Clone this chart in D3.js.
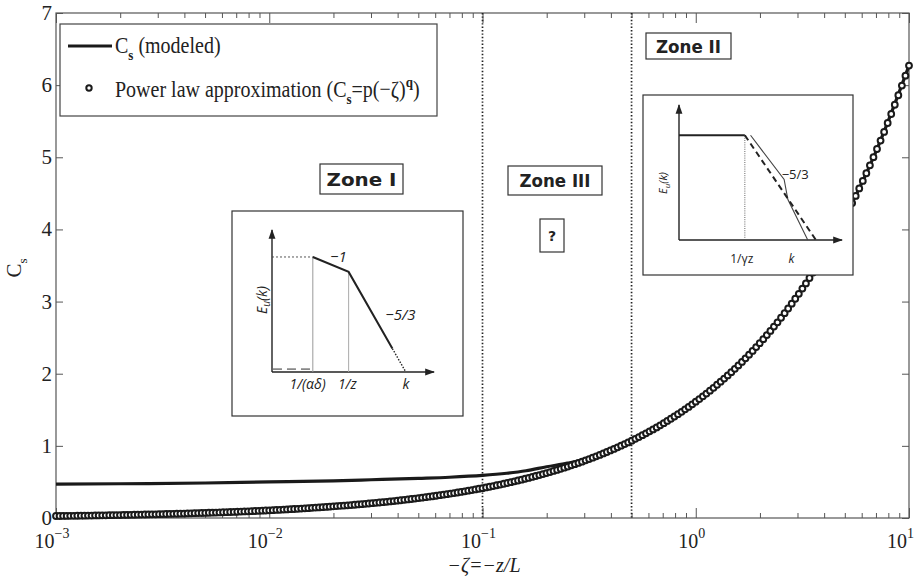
<!DOCTYPE html>
<html>
<head>
<meta charset="utf-8">
<script src="https://cdn.jsdelivr.net/npm/d3@7"></script>
<style>
  body { margin: 0; background: #fff; }
  svg { display: block; }
</style>
</head>
<body>
<svg id="chart" width="915" height="582"></svg>
<script>
// ---------- data ----------
const decadeTicks = [1e-3, 1e-2, 1e-1, 1e0, 1e1];
const decadeExponents = ["\u22123", "\u22122", "\u22121", "0", "1"];
const yTicks = [0, 1, 2, 3, 4, 5, 6, 7];
const zoneBoundaries = [0.1, 0.5];

// power-law approximation, sampled evenly in log10(-zeta) from 1e-3 to 10 (60 samples per decade)
const powerLawCs = [
  0.0274,0.0280,0.0286,0.0293,0.0300,0.0307,0.0314,0.0321,0.0328,0.0336,
  0.0343,0.0351,0.0359,0.0368,0.0376,0.0385,0.0393,0.0402,0.0412,0.0421,
  0.0431,0.0440,0.0451,0.0461,0.0471,0.0482,0.0493,0.0505,0.0516,0.0528,
  0.0540,0.0552,0.0565,0.0578,0.0591,0.0605,0.0619,0.0633,0.0647,0.0662,
  0.0677,0.0693,0.0709,0.0725,0.0741,0.0758,0.0776,0.0794,0.0812,0.0830,
  0.0849,0.0869,0.0889,0.0909,0.0930,0.0951,0.0973,0.0995,0.1018,0.1041,
  0.1065,0.1089,0.1114,0.1140,0.1166,0.1193,0.1220,0.1248,0.1276,0.1306,
  0.1336,0.1366,0.1398,0.1429,0.1462,0.1496,0.1530,0.1565,0.1601,0.1638,
  0.1675,0.1713,0.1753,0.1793,0.1834,0.1876,0.1919,0.1963,0.2008,0.2054,
  0.2101,0.2149,0.2198,0.2248,0.2300,0.2352,0.2406,0.2461,0.2518,0.2575,
  0.2634,0.2695,0.2756,0.2820,0.2884,0.2950,0.3018,0.3087,0.3158,0.3230,
  0.3304,0.3380,0.3457,0.3536,0.3617,0.3700,0.3785,0.3871,0.3960,0.4051,
  0.414,0.424,0.433,0.443,0.454,0.464,0.475,0.485,0.497,0.508,
  0.520,0.531,0.544,0.556,0.569,0.582,0.595,0.609,0.623,0.637,
  0.652,0.667,0.682,0.697,0.713,0.730,0.746,0.764,0.781,0.799,
  0.817,0.836,0.855,0.875,0.895,0.915,0.936,0.958,0.979,1.002,
  1.025,1.048,1.072,1.097,1.122,1.148,1.174,1.201,1.228,1.256,
  1.285,1.315,1.345,1.376,1.407,1.439,1.472,1.506,1.540,1.576,
  1.612,1.649,1.687,1.725,1.765,1.805,1.847,1.889,1.932,1.976,
  2.022,2.068,2.115,2.164,2.213,2.264,2.316,2.369,2.423,2.479,
  2.535,2.593,2.653,2.713,2.776,2.839,2.904,2.971,3.039,3.108,
  3.180,3.252,3.327,3.403,3.481,3.561,3.642,3.726,3.811,3.898,
  3.987,4.079,4.172,4.268,4.365,4.465,4.568,4.672,4.779,4.889,
  5.001,5.115,5.232,5.352,5.475,5.600,5.728,5.860,5.994,6.131,
  6.271
];

// modeled Cs
const modeledZeta = [0.001,0.002,0.005,0.01,0.02,0.03,0.05,0.07,0.1,0.13,0.16,0.2,0.25,0.3,0.35,0.4,0.5,0.7,1,1.5,2,3,5,7,10];
const modeledCs   = [0.47,0.475,0.485,0.50,0.515,0.53,0.55,0.565,0.59,0.62,0.655,0.71,0.76,0.81,0.87,0.94,1.07,1.31,1.61,2.05,2.43,3.08,4.17,5.08,6.27];

// ---------- layout ----------
const svg = d3.select("#chart");
const plot = { left: 56, right: 909, top: 13, bottom: 518 };
const axisColor = "#555";
const inkColor = "#1a1a1a";
const serif = "'Liberation Serif', 'Times New Roman', serif";
const sans = "'Open Sans', 'Liberation Sans', sans-serif";
const heavy = "'DejaVu Sans', sans-serif";

const x = d3.scaleLog().domain([1e-3, 10]).range([plot.left, plot.right]);
const y = d3.scaleLinear().domain([0, 7]).range([plot.bottom, plot.top]);

// ---------- ticks ----------
const majorSet = new Set(decadeTicks.map(d => +d.toPrecision(6)));
const minorTicks = x.ticks().filter(d => !majorSet.has(+d.toPrecision(6)));

function styleAxis(g) {
  g.select(".domain").remove();
  g.selectAll(".tick line").attr("stroke", axisColor).attr("stroke-width", 1);
  g.selectAll(".tick text").remove();
}
const bottomAxis = svg.append("g").attr("transform", `translate(0,${plot.bottom})`);
bottomAxis.append("g").call(d3.axisBottom(x).tickValues(minorTicks).tickSize(-5).tickSizeOuter(0)).call(styleAxis);
bottomAxis.append("g").call(d3.axisBottom(x).tickValues(decadeTicks).tickSize(-10).tickSizeOuter(0)).call(styleAxis);
const topAxis = svg.append("g").attr("transform", `translate(0,${plot.top})`);
topAxis.append("g").call(d3.axisTop(x).tickValues(minorTicks).tickSize(-5).tickSizeOuter(0)).call(styleAxis);
topAxis.append("g").call(d3.axisTop(x).tickValues(decadeTicks).tickSize(-10).tickSizeOuter(0)).call(styleAxis);
svg.append("g").attr("transform", `translate(${plot.left},0)`)
  .call(d3.axisLeft(y).tickValues(yTicks).tickSize(-7).tickSizeOuter(0)).call(styleAxis);
svg.append("g").attr("transform", `translate(${plot.right},0)`)
  .call(d3.axisRight(y).tickValues(yTicks).tickSize(-7).tickSizeOuter(0)).call(styleAxis);

// frame
svg.append("rect")
  .attr("x", plot.left).attr("y", plot.top)
  .attr("width", plot.right - plot.left).attr("height", plot.bottom - plot.top)
  .attr("fill", "none").attr("stroke", axisColor).attr("stroke-width", 1.2);

// y tick labels
svg.append("g").selectAll("text").data(yTicks).join("text")
  .attr("x", plot.left - 4).attr("y", d => y(d) + 7)
  .attr("text-anchor", "end")
  .attr("font-family", serif).attr("font-size", 21).attr("fill", "#222")
  .text(d => d);

// x tick labels: 10 with superscript exponent (the last one kept inside the page edge)
const lastTick = decadeTicks[decadeTicks.length - 1];
const xl = svg.append("g").selectAll("text").data(decadeTicks).join("text")
  .attr("x", d => d === lastTick ? 914 : x(d) - 4).attr("y", 548)
  .attr("text-anchor", d => d === lastTick ? "end" : "middle")
  .attr("font-family", serif).attr("font-size", 20).attr("fill", "#222");
xl.append("tspan").text("10");
xl.append("tspan").attr("dy", -10).attr("font-size", 14).text((d, i) => decadeExponents[i]);

// axis titles
svg.append("text")
  .attr("x", 484).attr("y", 572).attr("text-anchor", "middle")
  .attr("font-family", serif).attr("font-style", "italic").attr("font-size", 20).attr("fill", "#222")
  .text("\u2212\u03B6=\u2212z/L");
const yLab = svg.append("text")
  .attr("transform", "translate(21,268) rotate(-90)").attr("text-anchor", "middle")
  .attr("font-family", serif).attr("font-size", 21).attr("fill", "#222");
yLab.append("tspan").text("C");
yLab.append("tspan").attr("dy", 6).attr("font-size", 13).text("s");

// ---------- zone boundaries ----------
svg.append("g").selectAll("line").data(zoneBoundaries).join("line")
  .attr("x1", d => x(d)).attr("x2", d => x(d))
  .attr("y1", plot.top).attr("y2", plot.bottom)
  .attr("stroke", "#222").attr("stroke-width", 1.7).attr("stroke-dasharray", "1.4,2");

// ---------- curves ----------
const modeledLine = d3.line()
  .x(d => x(d[0])).y(d => y(d[1]))
  .curve(d3.curveMonotoneX);
svg.append("path")
  .datum(d3.zip(modeledZeta, modeledCs))
  .attr("d", modeledLine)
  .attr("fill", "none").attr("stroke", inkColor).attr("stroke-width", 3.2);

const sampleLog = d3.scaleLinear().domain([0, powerLawCs.length - 1]).range([Math.log10(1e-3), Math.log10(10)]);
svg.append("g").selectAll("circle").data(powerLawCs).join("circle")
  .attr("cx", (d, i) => x(Math.pow(10, sampleLog(i))))
  .attr("cy", d => y(d))
  .attr("r", 2.9)
  .attr("fill", "#fff").attr("stroke", inkColor).attr("stroke-width", 2);

// ---------- legend ----------
const legend = svg.append("g");
legend.append("rect").attr("x", 60).attr("y", 24).attr("width", 377).attr("height", 92)
  .attr("fill", "#fff").attr("stroke", "#444").attr("stroke-width", 1.2);
legend.append("line").attr("x1", 68).attr("x2", 112).attr("y1", 46).attr("y2", 46)
  .attr("stroke", inkColor).attr("stroke-width", 3.2);
const lt1 = legend.append("g").attr("transform", "translate(115,53) scale(1,1.2)")
  .append("text").attr("x", 0).attr("y", 0)
  .attr("font-family", serif).attr("font-size", 20).attr("fill", "#222");
lt1.append("tspan").text("C");
lt1.append("tspan").attr("dy", 6).attr("font-size", 13).attr("font-weight", "bold").text("s");
lt1.append("tspan").attr("dy", -6).text(" (modeled)");
legend.append("circle").attr("cx", 89).attr("cy", 88).attr("r", 2.7)
  .attr("fill", "#fff").attr("stroke", inkColor).attr("stroke-width", 2);
const lt2 = legend.append("g").attr("transform", "translate(115,97) scale(1,1.2)")
  .append("text").attr("x", 0).attr("y", 0)
  .attr("font-family", serif).attr("font-size", 20).attr("fill", "#222");
lt2.append("tspan").text("Power law approximation (C");
lt2.append("tspan").attr("dy", 6).attr("font-size", 13).attr("font-weight", "bold").text("s");
lt2.append("tspan").attr("dy", -6).text("=p(\u2212\u03B6)");
lt2.append("tspan").attr("dy", -8).attr("font-size", 13).attr("font-weight", "bold").text("q");
lt2.append("tspan").attr("dy", 8).text(")");

// ---------- zone labels ----------
const zoneBoxes = [
  { label: "Zone I",   x0: 320, y0: 164, x1: 403, y1: 194, w: 70 },
  { label: "Zone III", x0: 508, y0: 166, x1: 602, y1: 195, w: 71 },
  { label: "Zone II",  x0: 646, y0: 33,  x1: 731, y1: 59,  w: 65 }
];
const zb = svg.append("g").selectAll("g").data(zoneBoxes).join("g");
zb.append("rect")
  .attr("x", d => d.x0).attr("y", d => d.y0)
  .attr("width", d => d.x1 - d.x0).attr("height", d => d.y1 - d.y0)
  .attr("fill", "#fff").attr("stroke", "#333").attr("stroke-width", 1.2);
zb.append("text")
  .attr("x", d => (d.x0 + d.x1) / 2).attr("y", d => (d.y0 + d.y1) / 2 + 6.5)
  .attr("text-anchor", "middle")
  .attr("font-family", heavy).attr("font-weight", "bold").attr("font-size", 17).attr("fill", "#222")
  .attr("textLength", d => d.w).attr("lengthAdjust", "spacingAndGlyphs")
  .text(d => d.label);
// unknown spectrum marker for zone III
svg.append("rect").attr("x", 540).attr("y", 219).attr("width", 24).attr("height", 33)
  .attr("fill", "#fff").attr("stroke", "#333").attr("stroke-width", 1.2);
svg.append("text").attr("x", 552).attr("y", 241).attr("text-anchor", "middle")
  .attr("font-family", heavy).attr("font-weight", "bold").attr("font-size", 14).attr("fill", "#222")
  .text("?");

// ---------- spectrum sketches ----------
const defs = svg.append("defs");
defs.append("marker").attr("id", "arrow").attr("viewBox", "0 0 10 10")
  .attr("refX", 9).attr("refY", 5).attr("markerWidth", 7).attr("markerHeight", 7)
  .attr("orient", "auto-start-reverse")
  .append("path").attr("d", "M0,1.5 L10,5 L0,8.5 Z").attr("fill", "#222");

function sketch(frame, axes) {
  const g = svg.append("g");
  g.append("rect").attr("x", frame.x0).attr("y", frame.y0)
    .attr("width", frame.x1 - frame.x0).attr("height", frame.y1 - frame.y0)
    .attr("fill", "#fff").attr("stroke", "#333").attr("stroke-width", 1.2);
  const kx = d3.scaleLinear().domain([0, 1]).range([axes.ox, axes.xEnd]);
  const ey = d3.scaleLinear().domain([0, 1]).range([axes.oy, axes.yEnd]);
  const path = d3.line().x(d => kx(d[0])).y(d => ey(d[1]));
  g.append("path").attr("d", path([[0, 0], [0, 1]]))
    .attr("stroke", "#222").attr("stroke-width", 1.4).attr("fill", "none").attr("marker-end", "url(#arrow)");
  g.append("path").attr("d", path([[0, 0], [1, 0]]))
    .attr("stroke", "#222").attr("stroke-width", 1.4).attr("fill", "none").attr("marker-end", "url(#arrow)");
  return { g, kx, ey, path };
}

// Zone I: -1 range between 1/(alpha delta) and 1/z, then -5/3
const s1 = sketch({ x0: 232, y0: 211, x1: 463, y1: 416 }, { ox: 272, oy: 372, xEnd: 434, yEnd: 230 });
s1.g.append("path").attr("d", s1.path([[0, 0.81], [0.252, 0.81]]))
  .attr("stroke", "#444").attr("stroke-width", 0.9).attr("stroke-dasharray", "2,2").attr("fill", "none");
s1.g.append("path").attr("d", s1.path([[0.252, 0], [0.252, 0.81]]))
  .attr("stroke", "#999").attr("stroke-width", 1).attr("fill", "none");
s1.g.append("path").attr("d", s1.path([[0.473, 0], [0.473, 0.705]]))
  .attr("stroke", "#aaa").attr("stroke-width", 1).attr("fill", "none");
s1.g.append("path").attr("d", s1.path([[0.006, 0.02], [0.252, 0.02]]))
  .attr("stroke", "#888").attr("stroke-width", 1.8).attr("stroke-dasharray", "9,5").attr("fill", "none");
s1.g.append("path").attr("d", s1.path([[0.252, 0.81], [0.473, 0.705], [0.743, 0.165]]))
  .attr("stroke", "#222").attr("stroke-width", 2).attr("fill", "none");
s1.g.append("path").attr("d", s1.path([[0.743, 0.165], [0.826, 0]]))
  .attr("stroke", "#222").attr("stroke-width", 1.4).attr("stroke-dasharray", "1.5,1.5").attr("fill", "none");
const t1 = [
  { t: "\u22121", k: 0.36, e: 0.775 },
  { t: "\u22125/3", k: 0.70, e: 0.365 }
];
s1.g.selectAll("text.slope").data(t1).join("text").attr("class", "slope")
  .attr("x", d => s1.kx(d.k)).attr("y", d => s1.ey(d.e))
  .attr("font-family", sans).attr("font-style", "italic").attr("font-size", 15).attr("fill", "#222")
  .text(d => d.t);
const k1 = [
  { t: "1/(\u03B1\u03B4)", k: 0.22 },
  { t: "1/z", k: 0.465 },
  { t: "k", k: 0.826 }
];
s1.g.selectAll("text.k").data(k1).join("text").attr("class", "k")
  .attr("x", d => s1.kx(d.k)).attr("y", 389).attr("text-anchor", "middle")
  .attr("font-family", sans).attr("font-style", "italic").attr("font-size", 14).attr("fill", "#222")
  .text(d => d.t);
const e1 = s1.g.append("text").attr("transform", "translate(267,300) rotate(-90)").attr("text-anchor", "middle")
  .attr("font-family", sans).attr("font-style", "italic").attr("font-size", 14).attr("fill", "#222");
e1.append("tspan").text("E");
e1.append("tspan").attr("dy", 3).attr("font-size", 10).text("u");
e1.append("tspan").attr("dy", -3).text("(k)");

// Zone II: plateau up to 1/(gamma z), then -5/3
const s2 = sketch({ x0: 643, y0: 95, x1: 853, y1: 275 }, { ox: 679, oy: 240, xEnd: 842, yEnd: 105 });
s2.g.append("path").attr("d", s2.path([[0, 0.776], [0.404, 0.776]]))
  .attr("stroke", "#222").attr("stroke-width", 1.8).attr("fill", "none");
s2.g.append("path").attr("d", s2.path([[0.404, 0], [0.404, 0.776]]))
  .attr("stroke", "#555").attr("stroke-width", 0.9).attr("stroke-dasharray", "1,1.2").attr("fill", "none");
s2.g.append("path").attr("d", s2.path([[0.439, 0.776], [0.645, 0.448], [0.668, 0.30], [0.79, 0]]))
  .attr("stroke", "#444").attr("stroke-width", 1.1).attr("fill", "none");
s2.g.append("path").attr("d", s2.path([[0.404, 0.776], [0.84, 0]]))
  .attr("stroke", "#222").attr("stroke-width", 2).attr("stroke-dasharray", "6,4").attr("fill", "none");
s2.g.append("text").attr("x", s2.kx(0.63)).attr("y", s2.ey(0.455))
  .attr("font-family", sans).attr("font-size", 13).attr("fill", "#222").text("\u22125/3");
const k2 = [
  { t: "1/\u03B3z", k: 0.385, italic: false },
  { t: "k", k: 0.69, italic: true }
];
s2.g.selectAll("text.k").data(k2).join("text").attr("class", "k")
  .attr("x", d => s2.kx(d.k)).attr("y", 263).attr("text-anchor", "middle")
  .attr("font-family", sans).attr("font-style", d => d.italic ? "italic" : "normal")
  .attr("font-size", 12).attr("fill", "#222")
  .text(d => d.t);
const e2 = s2.g.append("text").attr("transform", "translate(667,183) rotate(-90)").attr("text-anchor", "middle")
  .attr("font-family", sans).attr("font-style", "italic").attr("font-size", 11).attr("fill", "#222");
e2.append("tspan").text("E");
e2.append("tspan").attr("dy", 3).attr("font-size", 8).text("u");
e2.append("tspan").attr("dy", -3).text("(k)");
</script>
</body>
</html>
